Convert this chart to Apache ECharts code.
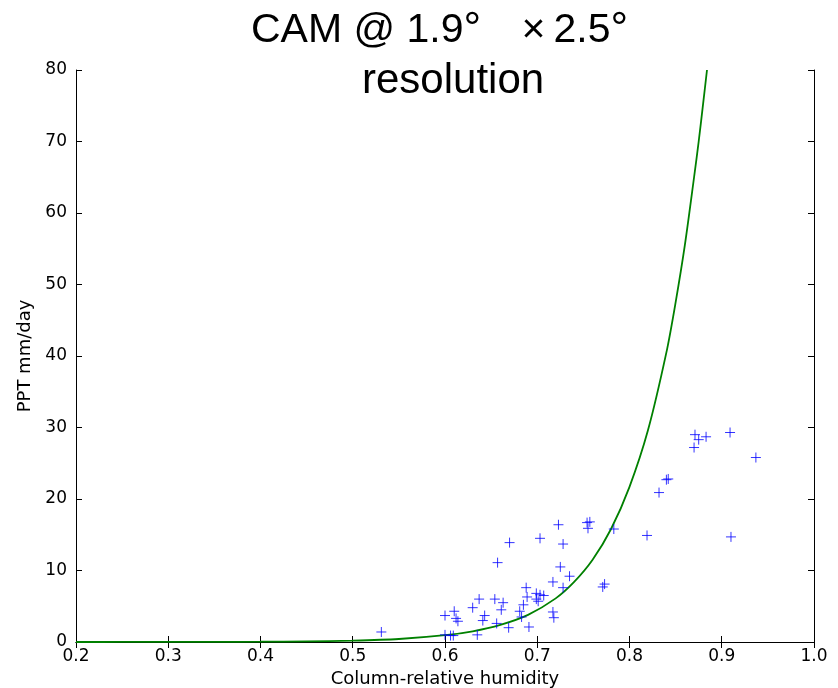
<!DOCTYPE html>
<html><head><meta charset="utf-8">
<script src="https://cdn.jsdelivr.net/npm/echarts@6/dist/echarts.min.js"></script>
<style>html,body{margin:0;padding:0;background:#fff}#c{width:838px;height:688px}</style>
</head><body><div id="c"></div>
<script>
const scatterPoints = [
  [0.531,1.4],
  [0.600,3.7],[0.610,4.3],[0.612,3.3],[0.614,2.9],
  [0.600,1.0],[0.606,0.9],[0.609,0.9],
  [0.630,4.8],[0.637,6.0],[0.643,3.7],[0.641,3.0],[0.635,1.0],
  [0.654,6.0],[0.663,5.5],[0.661,4.5],[0.656,2.6],[0.669,2.0],
  [0.688,7.6],[0.689,6.3],[0.685,5.2],[0.681,4.3],[0.683,3.5],[0.691,2.1],
  [0.699,6.8],[0.703,6.6],[0.707,6.5],[0.699,6.0],[0.701,5.7],
  [0.717,8.4],[0.728,7.6],[0.717,4.2],[0.718,3.4],
  [0.657,11.1],[0.670,13.9],[0.703,14.5],[0.723,16.4],[0.728,13.7],[0.725,10.5],[0.735,9.2],
  [0.754,16.7],[0.757,16.8],[0.755,15.9],[0.773,8.1],[0.771,7.7],[0.783,15.8],
  [0.819,14.9],[0.832,20.9],[0.840,22.7],[0.842,22.8],
  [0.870,27.2],[0.871,29.0],[0.875,28.3],[0.883,28.7],[0.909,29.3],[0.937,25.8],[0.910,14.7]
];
const curveX = [0.20,0.25,0.30,0.35,0.40,0.45,0.50,0.55,0.60,0.63,0.66,0.69,0.72,0.74,0.76,0.78,0.80,0.82,0.84,0.85,0.86,0.87,0.875,0.88,0.884];
const curveY = [0.002,0.004,0.009,0.02,0.04,0.09,0.19,0.42,0.95,1.5,2.4,3.8,6.1,8.4,11.5,15.8,21.7,29.6,40.5,47.5,55.5,65,70,75.5,80];
const xTicks = [0.2,0.3,0.4,0.5,0.6,0.7,0.8,0.9,1.0];
const yTicks = [0,10,20,30,40,50,60,70,80];

const curveData = curveX.map((x,i)=>[x,curveY[i]]);
const chart = echarts.init(document.getElementById('c'), null, {renderer:'canvas'});
const tickFont = {fontFamily:'DejaVu Sans', fontSize:17, color:'#000'};
const frame = {show:true, lineStyle:{color:'#000', width:1}};
const ticks = {show:true, inside:true, length:6, lineStyle:{color:'#000', width:1}};
const tFont = 'Liberation Sans';
const tBase = {fontFamily:tFont, fontSize:41, fontWeight:'normal', color:'#000'};
chart.setOption({
  animation:false,
  backgroundColor:'#fff',
  title:[
    {text:'{a|CAM @ 1.9}{d|°}{m|×}{a|2.5}{e|°}', left:246, top:4,
     textStyle:Object.assign({}, tBase, {
       rich:{
         a:Object.assign({}, tBase),
         d:Object.assign({}, tBase, {fontSize:44, width:50, align:'left'}),
         e:Object.assign({}, tBase, {fontSize:44}),
         m:Object.assign({}, tBase, {width:40, align:'center'})
       }})},
    {text:'resolution', left:357, top:55, textStyle:Object.assign({}, tBase, {fontSize:42})}
  ],
  grid:{left:76, right:24, top:70, bottom:46, containLabel:false, outerBoundsMode:'none'},
  xAxis:[
    {type:'value', min:xTicks[0], max:xTicks[xTicks.length-1], interval:0.1, position:'bottom',
     axisLine:frame, axisTick:ticks, splitLine:{show:false},
     axisLabel:Object.assign({margin:6, formatter:v=>v.toFixed(1)}, tickFont),
     name:'Column-relative humidity', nameLocation:'middle', nameGap:26,
     nameTextStyle:{fontFamily:'DejaVu Sans', fontSize:18, color:'#000'}},
    {type:'value', min:xTicks[0], max:xTicks[xTicks.length-1], interval:0.1, position:'top',
     axisLine:frame, axisTick:ticks, splitLine:{show:false}, axisLabel:{show:false}}
  ],
  yAxis:[
    {type:'value', min:yTicks[0], max:yTicks[yTicks.length-1], interval:10, position:'left',
     axisLine:frame, axisTick:ticks, splitLine:{show:false},
     axisLabel:Object.assign({margin:9}, tickFont),
     name:'PPT mm/day', nameLocation:'middle', nameGap:41,
     nameTextStyle:{fontFamily:'DejaVu Sans', fontSize:18, color:'#000'}},
    {type:'value', min:yTicks[0], max:yTicks[yTicks.length-1], interval:10, position:'right',
     axisLine:frame, axisTick:ticks, splitLine:{show:false}, axisLabel:{show:false}}
  ],
  series:[
    {type:'line', data:curveData, smooth:0.3, showSymbol:false, symbol:'none', clip:true,
     lineStyle:{color:'#008000', width:1.8}, z:2},
    {type:'scatter', data:scatterPoints, symbol:'path://M-1,0L1,0M0,-1L0,1', symbolSize:10,
     itemStyle:{color:'none', borderColor:'#0000ff', borderWidth:1}, z:3}
  ]
});
</script></body></html>
